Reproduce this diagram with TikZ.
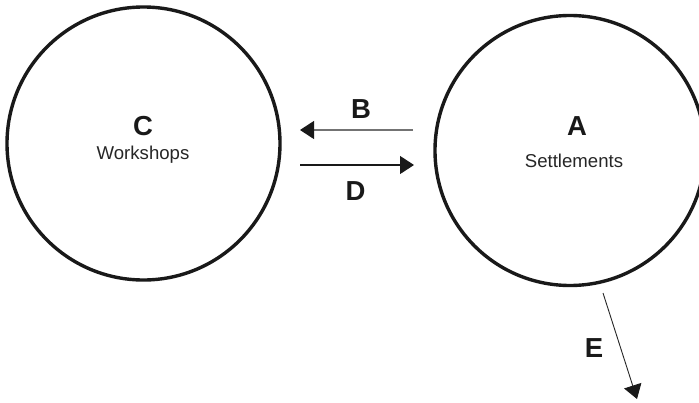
\documentclass[tikz,border=0pt]{standalone}
\usepackage{fontspec}
\setmainfont{Liberation Sans}
\usetikzlibrary{arrows.meta}
\tikzset{
  region/.style={circle,draw=black!90,line width=3.4pt,inner sep=0pt},
  letter/.style={anchor=base,inner sep=0pt,font=\fontsize{27.5}{32}\selectfont\bfseries,text=black!90},
  caption/.style={anchor=base,inner sep=0pt,font=\fontsize{18.6}{22}\selectfont,text=black!85},
  flow/.style={line width=1.1pt,-{Triangle[length=14pt,width=18pt,color=black!90]}},
}
\begin{document}
\begin{tikzpicture}[x=1pt,y=-1pt]
\useasboundingbox (0,0) rectangle (699,402);
\node[region,minimum size=273pt] (C) at (143.5,143.5) {};
\node[region,minimum size=270pt] (A) at (570,150.5) {};
\node[letter] (Cl) at (143,135) {C};
\node[caption] (Ct) at (143,159) {Workshops};
\node[letter] (Al) at (577,135) {A};
\node[caption] (At) at (574,167) {Settlements};
\node[letter] (Bl) at (361,118) {B};
\node[letter] (Dl) at (355.5,200) {D};
\node[letter] (El) at (594,357) {E};
\coordinate (b1) at (413,130);
\coordinate (b2) at (300,130);
\coordinate (d1) at (300,165);
\coordinate (d2) at (414,165);
\coordinate (e1) at (603,293);
\coordinate (e2) at (637,399);
\draw[flow,draw=black!55] (b1) -- (b2);
\draw[flow,draw=black!90] (d1) -- (d2);
\draw[flow,draw=black!85,line width=0.9pt] (e1) -- (e2);
\end{tikzpicture}
\end{document}
